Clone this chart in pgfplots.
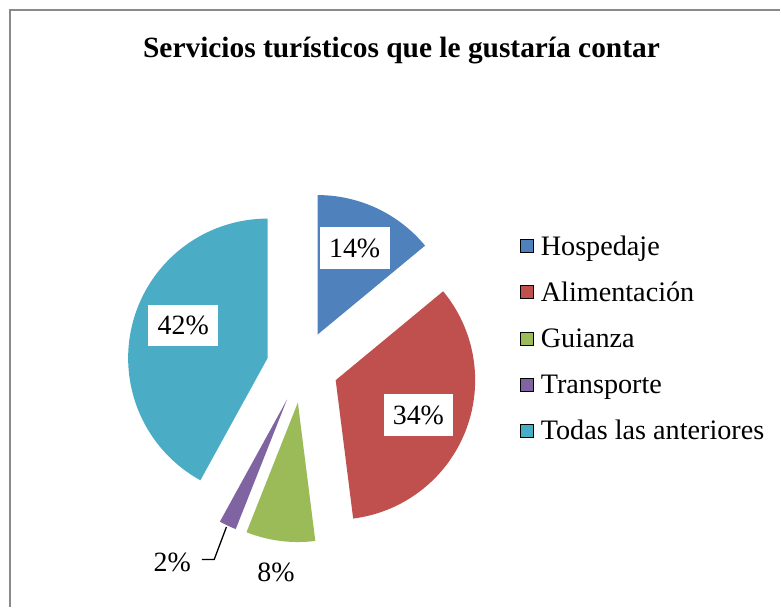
\documentclass[border=0pt]{standalone}
\usepackage{pgfplots}
\pgfplotsset{compat=1.18}
\usepackage{fontspec}
\setmainfont{Liberation Serif}
\definecolor{cA}{HTML}{4F81BD}
\definecolor{cB}{HTML}{C0504D}
\definecolor{cC}{HTML}{9BBB59}
\definecolor{cD}{HTML}{8064A2}
\definecolor{cE}{HTML}{4BACC6}
\definecolor{frame}{HTML}{8A8A8A}
\begin{document}
\begin{tikzpicture}
% percentages
\def\pA{14}\def\pB{34}\def\pC{8}\def\pD{2}\def\pE{42}
\def\cx{303.5}\def\cy{238.6}\def\R{140}\def\D{36}
\pgfmathsetmacro\sA{90}
\pgfmathsetmacro\eA{\sA-3.6*\pA}
\pgfmathsetmacro\eB{\eA-3.6*\pB}
\pgfmathsetmacro\eC{\eB-3.6*\pC}
\pgfmathsetmacro\eD{\eC-3.6*\pD}
\pgfmathsetmacro\eE{\eD-3.6*\pE}
\pgfmathsetmacro\xA{\cx+\D*cos((\sA+\eA)/2)}\pgfmathsetmacro\yA{\cy+\D*sin((\sA+\eA)/2)}
\pgfmathsetmacro\xB{\cx+\D*cos((\eA+\eB)/2)}\pgfmathsetmacro\yB{\cy+\D*sin((\eA+\eB)/2)}
\pgfmathsetmacro\xC{\cx+\D*cos((\eB+\eC)/2)}\pgfmathsetmacro\yC{\cy+\D*sin((\eB+\eC)/2)}
\pgfmathsetmacro\xD{\cx+\D*cos((\eC+\eD)/2)}\pgfmathsetmacro\yD{\cy+\D*sin((\eC+\eD)/2)}
\pgfmathsetmacro\xE{\cx+\D*cos((\eD+\eE)/2)}\pgfmathsetmacro\yE{\cy+\D*sin((\eD+\eE)/2)}
\begin{axis}[scale only axis, width=781pt, height=607pt,
  xmin=0, xmax=781, ymin=0, ymax=607, hide axis, clip=false]
\path (axis cs:0,0) rectangle (axis cs:781,607);
% frame
\addplot[forget plot, draw=frame, line width=2pt] coordinates {(10.3,-2) (10.3,596.7) (783,596.7)};
% slices
\addplot[fill=cA, draw=none, domain=\eA:\sA, samples=80, variable=\t] ({\xA+\R*cos(\t)}, {\yA+\R*sin(\t)}) -- (axis cs:\xA,\yA) -- cycle;
\addplot[fill=cB, draw=none, domain=\eB:\eA, samples=120, variable=\t] ({\xB+\R*cos(\t)}, {\yB+\R*sin(\t)}) -- (axis cs:\xB,\yB) -- cycle;
\addplot[fill=cC, draw=none, domain=\eC:\eB, samples=30, variable=\t] ({\xC+\R*cos(\t)}, {\yC+\R*sin(\t)}) -- (axis cs:\xC,\yC) -- cycle;
\addplot[fill=cD, draw=none, domain=\eD:\eC, samples=10, variable=\t] ({\xD+\R*cos(\t)}, {\yD+\R*sin(\t)}) -- (axis cs:\xD,\yD) -- cycle;
\addplot[fill=cE, draw=none, domain=\eE:\eD, samples=140, variable=\t] ({\xE+\R*cos(\t)}, {\yE+\R*sin(\t)}) -- (axis cs:\xE,\yE) -- cycle;
% leader line for 2%
\addplot[black, line width=1.3pt] coordinates {(227.3,78) (215,45.3) (202.7,45.3)};
% data labels
\node[fill=white, minimum width=70pt, minimum height=42pt, inner sep=0pt, font=\fontsize{28}{32}\selectfont] at (axis cs:356,358) {14\%};
\node[fill=white, minimum width=70pt, minimum height=42pt, inner sep=0pt, font=\fontsize{28}{32}\selectfont] at (axis cs:420,190.3) {34\%};
\node[fill=white, minimum width=70pt, minimum height=42pt, inner sep=0pt, font=\fontsize{28}{32}\selectfont] at (axis cs:184,280.2) {42\%};
\node[inner sep=0pt, font=\fontsize{28}{32}\selectfont] at (axis cs:277,32) {8\%};
\node[inner sep=0pt, font=\fontsize{28}{32}\selectfont] at (axis cs:173,42) {2\%};
% title
\node[anchor=base, inner sep=0pt, font=\fontsize{29.5}{34}\selectfont\bfseries] at (axis cs:403,549.7) {Servicios turísticos que le gustaría contar};
% legend
\addplot[only marks, mark=square*, mark size=6.5pt, mark options={draw=none, fill=cA}] coordinates {(529,360)};
\addplot[only marks, mark=square*, mark size=6.5pt, mark options={draw=none, fill=cB}] coordinates {(529,313.7)};
\addplot[only marks, mark=square*, mark size=6.5pt, mark options={draw=none, fill=cC}] coordinates {(529,267.3)};
\addplot[only marks, mark=square*, mark size=6.5pt, mark options={draw=none, fill=cD}] coordinates {(529,221)};
\addplot[only marks, mark=square*, mark size=6.5pt, mark options={draw=none, fill=cE}] coordinates {(529,174.7)};
\node[anchor=base west, inner sep=0pt, font=\fontsize{28.3}{32}\selectfont] at (axis cs:542.7,351) {Hospedaje};
\node[anchor=base west, inner sep=0pt, font=\fontsize{28.3}{32}\selectfont] at (axis cs:542.7,304.7) {Alimentación};
\node[anchor=base west, inner sep=0pt, font=\fontsize{28.3}{32}\selectfont] at (axis cs:542.7,258.3) {Guianza};
\node[anchor=base west, inner sep=0pt, font=\fontsize{28.3}{32}\selectfont] at (axis cs:542.7,212) {Transporte};
\node[anchor=base west, inner sep=0pt, font=\fontsize{28.3}{32}\selectfont] at (axis cs:542.7,165.7) {Todas las anteriores};
\end{axis}
\end{tikzpicture}
\end{document}
